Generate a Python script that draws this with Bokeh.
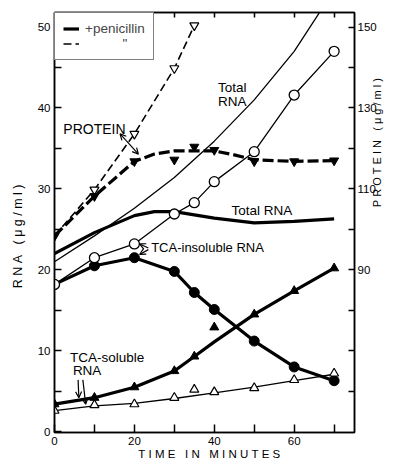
import math
from bokeh.plotting import figure
from bokeh.models import (Range1d, LinearAxis, FixedTicker, Label, Arrow, OpenHead,
                          Legend, LegendItem)
from bokeh.embed import file_html
from bokeh.resources import INLINE

FONT = "Liberation Sans"

# ---------------- data ----------------
# Protein (right axis, ug/ml)
time_prot_ctrl = [0, 10, 20, 30, 35]
prot_ctrl = [98.4, 109.8, 123.6, 139.8, 150.4]
time_prot_pen = [0, 10, 20, 30, 35, 40, 50, 60, 70]
prot_pen = [98.4, 108.2, 116.8, 117.2, 120.4, 119.6, 116.8, 116.8, 117.0]
time_prot_pen_curve = [0, 10, 20, 25, 30, 40, 45, 50, 60, 70]
prot_pen_curve = [98.4, 108.2, 116.8, 118.6, 119.4, 119.4, 118.4, 117.2, 116.8, 117.0]

# Total RNA (left axis, ug/ml)
time_total_ctrl = [0, 10, 20, 30, 40, 50, 60, 67]
total_ctrl = [21.0, 24.2, 27.6, 31.4, 35.9, 41.0, 47.0, 52.3]
time_total_pen = [0, 10, 20, 25, 30, 40, 50, 60, 70]
total_pen = [22.0, 24.6, 26.7, 27.2, 27.2, 26.4, 25.8, 26.0, 26.3]

# TCA-insoluble RNA
time_ins = [0, 10, 20, 30, 35, 40, 50, 60, 70]
ins_ctrl = [18.2, 21.5, 23.2, 26.9, 28.3, 30.9, 34.6, 41.6, 47.0]
ins_pen = [18.2, 20.5, 21.5, 19.8, 17.2, 15.1, 11.2, 8.0, 6.3]

# TCA-soluble RNA
time_sol = [0, 10, 20, 30, 35, 40, 50, 60, 70]
sol_pen = [3.4, 4.2, 5.5, 7.5, 9.3, 12.9, 14.5, 17.4, 20.2]
sol_pen_curve = [3.4, 4.2, 5.5, 7.5, 9.3, 11.1, 14.5, 17.4, 20.2]
sol_ctrl = [2.6, 3.3, 3.4, 4.2, 5.2, 4.9, 5.4, 6.4, 7.2]
time_sol_ctrl_curve = [0, 10, 20, 30, 40, 50, 60, 70]
sol_ctrl_curve = [2.6, 3.2, 3.5, 4.1, 4.8, 5.5, 6.3, 7.1]

x_major = [0, 20, 40, 60]
x_minor = [10, 30, 50, 70]
x_top = [10, 20, 30, 40, 50, 60, 70]
y_major = [0, 10, 20, 30, 40, 50]
y_minor = [5, 15, 25, 35, 45]
p_major = [90, 110, 130, 150]
p_minor = [60, 70, 80, 100, 120, 140]

NB = "\u00a0"

def sp(s, ch=NB):
    return ch.join(s)

# ---------------- figure ----------------
p = figure(width=391, height=462, x_range=Range1d(0, 75.1), y_range=Range1d(-0.1, 51.8),
           output_backend="svg", toolbar_location=None,
           min_border_left=54, min_border_right=30, min_border_top=12, min_border_bottom=30)
p.extra_y_ranges = {"prot": Range1d(49.8, 153.6)}
p.xgrid.visible = False
p.ygrid.visible = False
p.outline_line_color = "black"
p.outline_line_width = 1.5
p.background_fill_color = "white"
p.border_fill_color = "white"

def style_axis(ax, major, minor, tick_len=8):
    ax.ticker = FixedTicker(ticks=major, minor_ticks=minor)
    ax.major_tick_in = tick_len
    ax.major_tick_out = 0
    ax.minor_tick_in = tick_len
    ax.minor_tick_out = 0
    ax.axis_line_width = 1.5
    ax.major_tick_line_width = 1.5
    ax.minor_tick_line_width = 1.5
    ax.major_label_text_font = FONT
    ax.major_label_text_font_size = "11.5px"
    ax.major_label_text_color = "black"
    ax.major_label_standoff = 4
    ax.axis_label_text_font = FONT
    ax.axis_label_text_font_style = "normal"
    ax.axis_label_text_color = "black"

xa = p.xaxis[0]
style_axis(xa, x_major, x_minor)
xa.axis_label = NB * 3 + sp("TIME") + NB * 3 + sp("IN") + NB * 3 + sp("MINUTES")
xa.axis_label_text_font_size = "11.5px"
xa.axis_label_standoff = 0

ya = p.yaxis[0]
style_axis(ya, y_major, y_minor, 7)
ya.axis_label = sp("RNA") + NB * 3 + sp("(μg/ml)") + NB * 8
ya.axis_label_text_font_size = "12.5px"
ya.axis_label_standoff = 10

right = LinearAxis(y_range_name="prot")
style_axis(right, p_major, p_minor, 6)
right.major_label_standoff = 3
right_text = sp("PROTEIN") + NB * 3 + sp("(μg/ml)")
if "axis_label_orientation" in right.properties():
    right.axis_label_orientation = math.pi / 2
    right.axis_label = NB * 5 + right_text
else:
    right.axis_label = right_text
right.axis_label_text_font_size = "11px"
right.axis_label_standoff = -3
p.add_layout(right, "right")

top = LinearAxis()
style_axis(top, [], x_top, 5)
p.add_layout(top, "above")

THICK = 3.2
THIN = 1.3

# protein
r_prot_ctrl = p.line(time_prot_ctrl, prot_ctrl, y_range_name="prot", line_color="black",
                     line_width=1.6, line_dash="8 4")
p.scatter(time_prot_ctrl, prot_ctrl, y_range_name="prot", marker="inverted_triangle", size=9,
          fill_color="white", line_color="black", line_width=1.2)
p.line(time_prot_pen_curve, prot_pen_curve, y_range_name="prot", line_color="black",
       line_width=THICK, line_dash="11 4")
p.scatter(time_prot_pen, prot_pen, y_range_name="prot", marker="inverted_triangle", size=9,
          fill_color="black", line_color="black")

# total RNA
p.line(time_total_ctrl, total_ctrl, line_color="black", line_width=THIN)
r_total_pen = p.line(time_total_pen, total_pen, line_color="black", line_width=THICK)

# TCA insoluble
p.line(time_ins, ins_pen, line_color="black", line_width=THICK)
p.scatter(time_ins, ins_pen, marker="circle", size=10, fill_color="black", line_color="black")
p.line(time_ins, ins_ctrl, line_color="black", line_width=THIN)
p.scatter(time_ins, ins_ctrl, marker="circle", size=10, fill_color="white", line_color="black",
          line_width=1.3)

# TCA soluble
p.line(time_sol, sol_pen_curve, line_color="black", line_width=THICK)
p.scatter(time_sol, sol_pen, marker="triangle", size=9, fill_color="black", line_color="black")
p.line(time_sol_ctrl_curve, sol_ctrl_curve, line_color="black", line_width=THIN)
p.scatter(time_sol, sol_ctrl, marker="triangle", size=9, fill_color="white", line_color="black",
          line_width=1.2)

# legend
legend = Legend(items=[LegendItem(label="+penicillin", renderers=[r_total_pen]),
                       LegendItem(label=NB * 10 + "\"", renderers=[r_prot_ctrl])],
                location="top_left", margin=0, padding=8, spacing=0, glyph_width=16,
                glyph_height=15, label_height=15, label_standoff=6,
                border_line_color="black", border_line_width=1.5,
                label_text_font=FONT, label_text_font_size="13.5px", background_fill_alpha=1)
p.add_layout(legend)

def txt(x, y, s, size="13.5px", align="left"):
    p.add_layout(Label(x=x, y=y, text=s, text_font=FONT, text_font_size=size,
                       text_align=align, text_baseline="middle", text_color="black"))

txt(44.5, 42.5, "Total", align="center")
txt(44.5, 40.8, "RNA", align="center")
txt(2.2, 37.4, "PROTEIN", size="14px")
txt(44.3, 27.3, "Total RNA")
txt(24.2, 22.7, "TCA-insoluble RNA", size="13px")
txt(3.9, 9.2, "TCA-soluble")
txt(4.6, 7.5, "RNA")

def arr(x0, y0, x1, y1):
    p.add_layout(Arrow(end=OpenHead(size=6, line_width=1.2), x_start=x0, y_start=y0,
                       x_end=x1, y_end=y1, line_width=1.2))

arr(17.9, 36.0, 16.4, 36.8)
arr(17.9, 36.0, 21.0, 34.3)
arr(23.5, 22.7, 21.3, 23.2)
arr(23.5, 22.5, 21.3, 21.9)
arr(5.9, 6.4, 6.1, 4.2)
arr(7.1, 6.4, 7.8, 3.4)

open("out.html", "w").write(file_html(p, INLINE))
